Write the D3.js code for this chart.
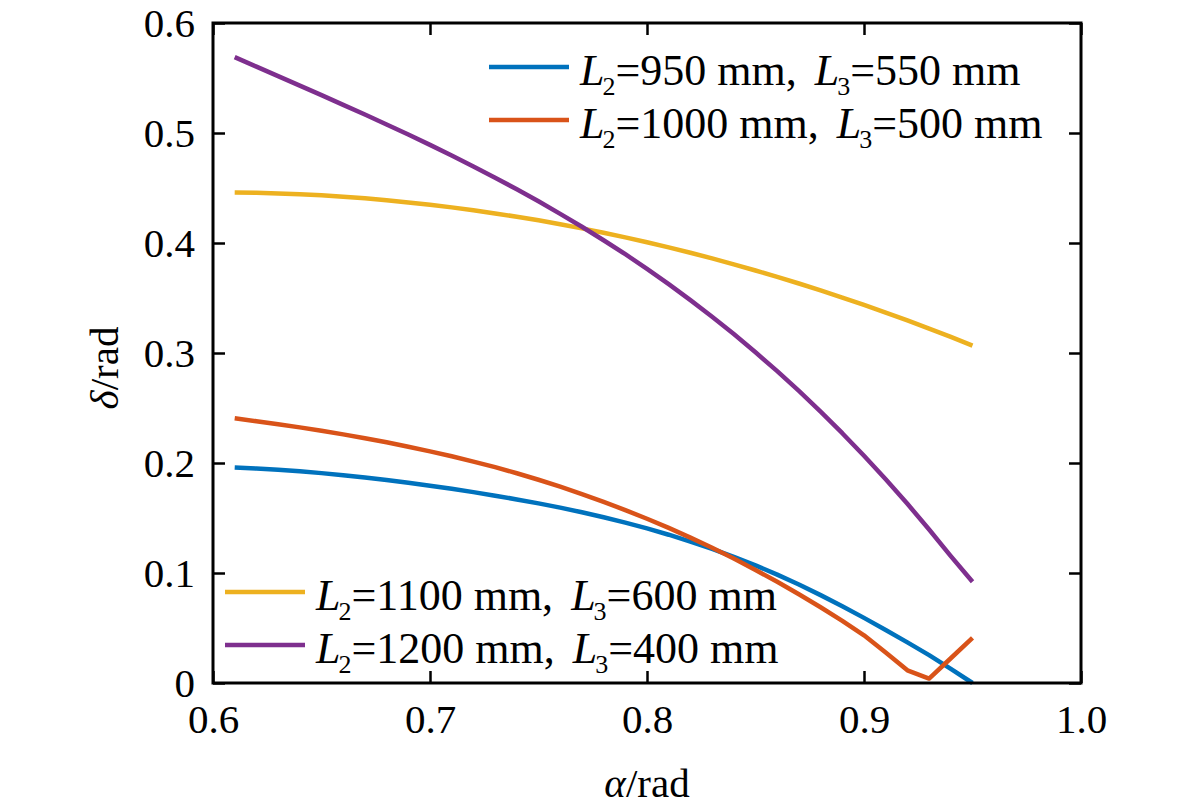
<!DOCTYPE html>
<html><head><meta charset="utf-8">
<script src="https://cdn.jsdelivr.net/npm/d3@7/dist/d3.min.js"></script>
<style>body{margin:0;background:#fff}svg{display:block}text{font-family:"Liberation Serif","Times New Roman",serif;fill:#000}</style>
</head><body><svg id="c" width="1181" height="809"></svg>
<script>
const alpha = [0.61,0.62,0.63,0.64,0.65,0.66,0.67,0.68,0.69,0.70,0.71,0.72,0.73,0.74,0.75,0.76,0.77,0.78,0.79,0.80,0.81,0.82,0.83,0.84,0.85,0.86,0.87,0.88,0.89,0.90,0.91,0.92,0.93,0.94,0.95];
const s950 = [0.1960,0.1950,0.1938,0.1924,0.1908,0.1889,0.1868,0.1845,0.1820,0.1793,0.1765,0.1735,0.1703,0.1669,0.1633,0.1594,0.1552,0.1507,0.1458,0.1405,0.1348,0.1286,0.1219,0.1147,0.1069,0.0985,0.0895,0.0799,0.0698,0.0592,0.0482,0.0369,0.0253,0.0128,0.0000];
const s1000 = [0.2406,0.2380,0.2353,0.2324,0.2293,0.2260,0.2225,0.2188,0.2148,0.2106,0.2061,0.2013,0.1962,0.1907,0.1848,0.1785,0.1718,0.1647,0.1572,0.1493,0.1410,0.1322,0.1229,0.1131,0.1028,0.0920,0.0807,0.0689,0.0565,0.0434,0.0278,0.0115,0.0040,0.0225,0.0410];
const s1100 = [0.4460,0.4457,0.4451,0.4443,0.4433,0.4420,0.4406,0.4389,0.4369,0.4348,0.4324,0.4298,0.4269,0.4239,0.4206,0.4170,0.4133,0.4093,0.4051,0.4007,0.3960,0.3911,0.3860,0.3806,0.3750,0.3692,0.3632,0.3569,0.3504,0.3437,0.3368,0.3296,0.3222,0.3146,0.3067];
const s1200 = [0.5690,0.5603,0.5517,0.5431,0.5344,0.5256,0.5168,0.5077,0.4986,0.4892,0.4795,0.4696,0.4594,0.4488,0.4379,0.4265,0.4148,0.4025,0.3898,0.3765,0.3626,0.3481,0.3330,0.3172,0.3007,0.2835,0.2655,0.2467,0.2271,0.2066,0.1852,0.1629,0.1396,0.1153,0.0920];
const xTicks = [0.6,0.7,0.8,0.9,1.0];
const yTicks = [0,0.1,0.2,0.3,0.4,0.5,0.6];
const seriesNames = [["2","950","3","550"],["2","1000","3","500"],["2","1100","3","600"],["2","1200","3","400"]];
const colors = ["#0072BD","#D95319","#EDB120","#7E2F8E"];
const seriesVals = [s950,s1000,s1100,s1200];

const svg = d3.select("#c");
const L=213,R=1081,T=23,B=683;
const x = d3.scaleLinear().domain([0.6,1.0]).range([L,R]);
const y = d3.scaleLinear().domain([0,0.6]).range([B,T]);

const g = svg.append("g");
const line = d3.line().x((d,i)=>x(alpha[i])).y(d=>y(d));
seriesVals.forEach((vals,k)=>{
  g.append("path").datum(vals).attr("d",line).attr("fill","none")
   .attr("stroke",colors[k]).attr("stroke-width",4.5).attr("stroke-linejoin","round");
});

const fs = 41;
const ax = (gen, tr)=> svg.append("g").attr("transform",tr).call(gen);
const xb = ax(d3.axisBottom(x).tickValues(xTicks).tickSizeInner(-12).tickSizeOuter(0).tickPadding(21).tickFormat(d3.format(".1f")), `translate(0,${B})`);
const xt = ax(d3.axisTop(x).tickValues(xTicks).tickSizeInner(-12).tickSizeOuter(0).tickFormat(""), `translate(0,${T})`);
const yl = ax(d3.axisLeft(y).tickValues(yTicks).tickSizeInner(-12).tickSizeOuter(0).tickPadding(18).tickFormat(d=>d===0?"0":d3.format(".1f")(d)), `translate(${L},0)`);
const yr = ax(d3.axisRight(y).tickValues(yTicks).tickSizeInner(-12).tickSizeOuter(0).tickFormat(""), `translate(${R},0)`);
[xb,xt,yl,yr].forEach(a=>{
  a.select(".domain").remove();
  a.selectAll(".tick line").attr("stroke","#000").attr("stroke-width",2.5);
  a.selectAll(".tick text").style("font-size",fs+"px").style("font-family","Liberation Serif");
});
svg.append("rect").attr("x",L).attr("y",T).attr("width",R-L).attr("height",B-T)
  .attr("fill","none").attr("stroke","#000").attr("stroke-width",3);

const xtitle = svg.append("text").attr("x",(L+R)/2).attr("y",797).attr("text-anchor","middle").style("font-size",fs+"px");
xtitle.append("tspan").style("font-style","italic").text("α");
xtitle.append("tspan").text("/rad");
const ytitle = svg.append("text").attr("transform","translate(118,368) rotate(-90)").attr("text-anchor","middle").style("font-size",fs+"px");
ytitle.append("tspan").style("font-style","italic").text("δ");
ytitle.append("tspan").text("/rad");

const lfs = 44;
function legendItem(k, lx, ly){
  svg.append("line").attr("x1",lx).attr("x2",lx+80).attr("y1",ly).attr("y2",ly)
    .attr("stroke",colors[k]).attr("stroke-width",4.5);
  const n = seriesNames[k];
  const t = svg.append("text").attr("x",lx+91).attr("y",ly+18).style("font-size",lfs+"px");
  t.append("tspan").style("font-style","italic").text("L");
  t.append("tspan").style("font-size","26px").attr("dy",10).attr("dx",-2).text(n[0]);
  t.append("tspan").attr("dy",-10).text("=" + n[1] + " mm,");
  t.append("tspan").attr("dx",18).style("font-style","italic").text("L");
  t.append("tspan").style("font-size","26px").attr("dy",10).attr("dx",-2).text(n[2]);
  t.append("tspan").attr("dy",-10).text("=" + n[3] + " mm");
}
legendItem(0,489,67);
legendItem(1,489,120);
legendItem(2,225,592);
legendItem(3,225,645);
</script></body></html>
